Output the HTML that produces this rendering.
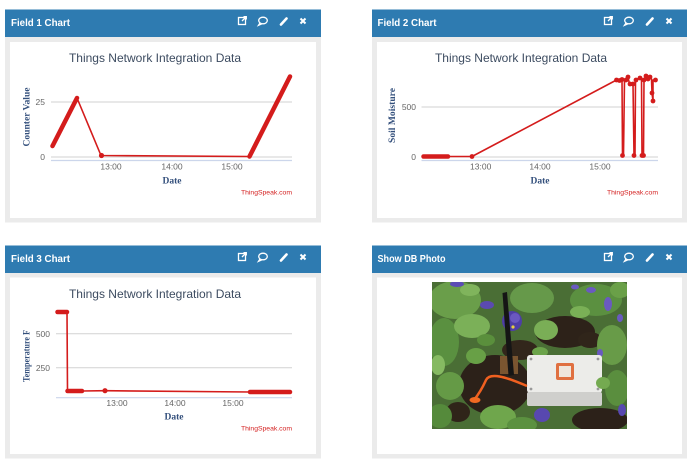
<!DOCTYPE html>
<html><head><meta charset="utf-8"><style>
html,body{margin:0;padding:0;background:#fff;width:700px;height:473px;overflow:hidden}
svg{display:block}
.hd{font:bold 10.5px "Liberation Sans",sans-serif;fill:#fff}
.t{font:12px "Liberation Sans",sans-serif;fill:#3c4b60}
.tk{font:8.5px "Liberation Sans",sans-serif;fill:#666}
.at{font:bold 9.5px "Liberation Serif",serif;fill:#34507c}
.ts{font:6.8px "Liberation Sans",sans-serif;fill:#d42020}
.ic{stroke:#fff;fill:none;stroke-width:1.3}
</style></head><body>
<svg width="700" height="473" viewBox="0 0 700 473" xmlns="http://www.w3.org/2000/svg">
<defs>
<g id="icons">
  <rect x="-82.5" y="-3.5" width="7" height="7" class="ic"/>
  <path d="M-79 0 L-75 -4 M-77.5 -4.3 L-74.7 -4.3 L-74.7 -1.5" class="ic"/>
  <ellipse cx="-58" cy="-0.5" rx="4.3" ry="3.3" class="ic"/>
  <path d="M-61 2 L-62.5 4.3 L-59 2.8" class="ic"/>
  <path d="M-40 3.5 L-34.5 -2.5" stroke="#fff" stroke-width="2.6" stroke-linecap="round"/>
  <path d="M-20.5 -2.5 L-15.5 2.5 M-15.5 -2.5 L-20.5 2.5" stroke="#fff" stroke-width="2"/>
</g>
<clipPath id="ph"><rect x="432" y="282" width="195" height="147"/></clipPath>
</defs>

<rect x="5" y="37" width="316" height="185.5" fill="#ebebeb"/>
<rect x="10" y="42" width="306" height="176" fill="#fff"/>
<rect x="5" y="9.5" width="316" height="27.5" fill="#2e7bb1"/>
<text x="11" y="25.8" class="hd" textLength="59" lengthAdjust="spacingAndGlyphs">Field 1 Chart</text>
<use href="#icons" transform="translate(321,21)"/>

<rect x="372" y="37" width="315" height="185.5" fill="#ebebeb"/>
<rect x="377" y="42" width="305" height="176" fill="#fff"/>
<rect x="372" y="9.5" width="315" height="27.5" fill="#2e7bb1"/>
<text x="377.5" y="25.8" class="hd" textLength="59" lengthAdjust="spacingAndGlyphs">Field 2 Chart</text>
<use href="#icons" transform="translate(687,21)"/>

<rect x="5" y="273" width="316" height="185.5" fill="#ebebeb"/>
<rect x="10" y="277.5" width="306" height="176.5" fill="#fff"/>
<rect x="5" y="245.5" width="316" height="27.5" fill="#2e7bb1"/>
<text x="11" y="261.8" class="hd" textLength="59" lengthAdjust="spacingAndGlyphs">Field 3 Chart</text>
<use href="#icons" transform="translate(321,257)"/>

<rect x="372" y="273" width="315" height="185.5" fill="#ebebeb"/>
<rect x="377" y="277.5" width="305" height="176.5" fill="#fff"/>
<rect x="372" y="245.5" width="315" height="27.5" fill="#2e7bb1"/>
<text x="377.5" y="261.8" class="hd" textLength="68" lengthAdjust="spacingAndGlyphs">Show DB Photo</text>
<use href="#icons" transform="translate(687,257)"/>

<!-- Chart 1 -->
<text x="155" y="62" class="t" text-anchor="middle">Things Network Integration Data</text>
<line x1="51" y1="102" x2="292" y2="102" stroke="#d2d2d2" stroke-width="1"/>
<line x1="51" y1="157" x2="292" y2="157" stroke="#d2d2d2" stroke-width="1"/>
<line x1="51" y1="160.5" x2="292" y2="160.5" stroke="#ccd6eb" stroke-width="1.2"/>
<text x="45" y="105" class="tk" text-anchor="end">25</text>
<text x="45" y="160" class="tk" text-anchor="end">0</text>
<text x="111" y="169.5" class="tk" text-anchor="middle">13:00</text>
<text x="172" y="169.5" class="tk" text-anchor="middle">14:00</text>
<text x="232" y="169.5" class="tk" text-anchor="middle">15:00</text>
<text x="172" y="183.5" class="at" text-anchor="middle">Date</text>
<text transform="translate(29.5,117) rotate(-90)" class="at" text-anchor="middle" textLength="59" lengthAdjust="spacingAndGlyphs">Counter Value</text>
<text x="292" y="194.5" class="ts" text-anchor="end">ThingSpeak.com</text>
<g stroke="#d41c1c" fill="none" stroke-linecap="round" stroke-linejoin="round">
  <path d="M52.5 146 L77 98" stroke-width="4.5"/>
  <path d="M77 98 L101 155.5 L249 156.5" stroke-width="1.6"/>
  <path d="M249.5 156.5 L290 76.5" stroke-width="4.5"/>
</g>
<circle cx="101.5" cy="155.5" r="2.6" fill="#d41c1c"/>

<!-- Chart 2 -->
<text x="521" y="62" class="t" text-anchor="middle">Things Network Integration Data</text>
<line x1="421.5" y1="107" x2="658" y2="107" stroke="#d2d2d2" stroke-width="1"/>
<line x1="421.5" y1="157" x2="658" y2="157" stroke="#d2d2d2" stroke-width="1"/>
<line x1="421.5" y1="160.5" x2="658" y2="160.5" stroke="#ccd6eb" stroke-width="1.2"/>
<text x="416" y="110" class="tk" text-anchor="end">500</text>
<text x="416" y="160" class="tk" text-anchor="end">0</text>
<text x="480.7" y="169.5" class="tk" text-anchor="middle">13:00</text>
<text x="540" y="169.5" class="tk" text-anchor="middle">14:00</text>
<text x="600" y="169.5" class="tk" text-anchor="middle">15:00</text>
<text x="540" y="183.5" class="at" text-anchor="middle">Date</text>
<text transform="translate(395,115.5) rotate(-90)" class="at" text-anchor="middle" textLength="55" lengthAdjust="spacingAndGlyphs">Soil Moisture</text>
<text x="658" y="194.5" class="ts" text-anchor="end">ThingSpeak.com</text>
<g stroke="#d41c1c" fill="none" stroke-linecap="round" stroke-linejoin="round">
  <path d="M423.5 156.5 L448 156.5" stroke-width="4.5"/>
  <path d="M448 156.5 L472 156.5 L616.5 80 L620 80 L622 79.5 L622.5 155.5 L623.5 155.5 L624.5 80 L626 80 L628 77 L629.5 84 L633 84 L634 155.5 L635 155.5 L635.5 80 L640 78 L641.5 78 L642 155.5 L643.5 155.5 L644 80 L646 76 L648 79 L650 77 L651.5 79 L652 93 L653 101 L653 80 L655.5 80" stroke-width="1.6"/>
</g>
<g fill="#d41c1c">
  <circle cx="472" cy="156.5" r="2.4"/>
  <circle cx="616.5" cy="80" r="2.4"/><circle cx="619.5" cy="80.5" r="2.4"/><circle cx="622" cy="79.5" r="2.4"/>
  <circle cx="622.5" cy="155.5" r="2.4"/><circle cx="626" cy="80" r="2.4"/><circle cx="628" cy="77" r="2.4"/>
  <circle cx="630" cy="84" r="2.4"/><circle cx="633" cy="84" r="2.4"/><circle cx="634" cy="155.5" r="2.4"/>
  <circle cx="636" cy="80" r="2.4"/><circle cx="640" cy="78" r="2.4"/><circle cx="642" cy="155.5" r="2.4"/>
  <circle cx="643.5" cy="155.5" r="2.4"/><circle cx="644" cy="80" r="2.4"/><circle cx="646" cy="76" r="2.4"/>
  <circle cx="648" cy="79" r="2.4"/><circle cx="650" cy="77" r="2.4"/><circle cx="652" cy="93" r="2.4"/>
  <circle cx="653" cy="101" r="2.4"/><circle cx="655.5" cy="80" r="2.4"/>
</g>

<!-- Chart 3 -->
<text x="155" y="298" class="t" text-anchor="middle">Things Network Integration Data</text>
<line x1="56" y1="333.7" x2="292" y2="333.7" stroke="#d2d2d2" stroke-width="1"/>
<line x1="56" y1="367.7" x2="292" y2="367.7" stroke="#d2d2d2" stroke-width="1"/>
<line x1="56" y1="397.7" x2="292" y2="397.7" stroke="#ccd6eb" stroke-width="1.2"/>
<text x="50" y="337" class="tk" text-anchor="end">500</text>
<text x="50" y="371" class="tk" text-anchor="end">250</text>
<text x="117" y="406" class="tk" text-anchor="middle">13:00</text>
<text x="175" y="406" class="tk" text-anchor="middle">14:00</text>
<text x="233" y="406" class="tk" text-anchor="middle">15:00</text>
<text x="174" y="419.5" class="at" text-anchor="middle">Date</text>
<text transform="translate(29.5,356) rotate(-90)" class="at" text-anchor="middle" textLength="52" lengthAdjust="spacingAndGlyphs">Temperature F</text>
<text x="292" y="430.5" class="ts" text-anchor="end">ThingSpeak.com</text>
<g stroke="#d41c1c" fill="none" stroke-linecap="round" stroke-linejoin="round">
  <path d="M57.5 312 L67 312" stroke-width="4.5"/>
  <path d="M67 312 L67.5 391" stroke-width="1.6"/>
  <path d="M67.5 391 L82 391" stroke-width="4.5"/>
  <path d="M82 391 L105 390.7 L250 392" stroke-width="1.6"/>
  <path d="M250 392 L290 392" stroke-width="4.5"/>
</g>
<circle cx="105" cy="390.7" r="2.6" fill="#d41c1c"/>

<!-- Photo -->
<g clip-path="url(#ph)">
  <rect x="432" y="282" width="195" height="147" fill="#4a6e35"/>
  <ellipse cx="495" cy="385" rx="36" ry="30" fill="#2c2119"/>
  <ellipse cx="565" cy="332" rx="30" ry="16" fill="#2d2219"/>
  <ellipse cx="600" cy="420" rx="28" ry="12" fill="#2c2119"/>
  <ellipse cx="458" cy="412" rx="12" ry="10" fill="#2f2419"/>
  <ellipse cx="520" cy="350" rx="18" ry="10" fill="#32261b"/>
  <ellipse cx="590" cy="340" rx="12" ry="8" fill="#30251a"/>
  <ellipse cx="455" cy="300" rx="26" ry="19" fill="#6a9e4a"/>
  <ellipse cx="444" cy="342" rx="15" ry="24" fill="#5a9040"/>
  <ellipse cx="472" cy="326" rx="18" ry="12" fill="#7bb058"/>
  <ellipse cx="450" cy="386" rx="14" ry="14" fill="#659a46"/>
  <ellipse cx="440" cy="416" rx="12" ry="12" fill="#558a3b"/>
  <ellipse cx="532" cy="298" rx="22" ry="15" fill="#66994a"/>
  <ellipse cx="546" cy="330" rx="12" ry="10" fill="#7aae56"/>
  <ellipse cx="596" cy="300" rx="26" ry="16" fill="#5b9040"/>
  <ellipse cx="612" cy="345" rx="15" ry="20" fill="#689b48"/>
  <ellipse cx="617" cy="388" rx="12" ry="18" fill="#5a8e3e"/>
  <ellipse cx="498" cy="417" rx="18" ry="12" fill="#6fa64c"/>
  <ellipse cx="522" cy="425" rx="15" ry="8" fill="#5b9140"/>
  <ellipse cx="476" cy="356" rx="10" ry="8" fill="#68a046"/>
  <ellipse cx="486" cy="340" rx="9" ry="6" fill="#5a8f3c"/>
  <ellipse cx="540" cy="352" rx="8" ry="5" fill="#6ba34a"/>
  <ellipse cx="580" cy="312" rx="10" ry="6" fill="#7ab056"/>
  <ellipse cx="438" cy="365" rx="7" ry="10" fill="#86ba62"/>
  <ellipse cx="470" cy="290" rx="10" ry="6" fill="#80b45c"/>
  <ellipse cx="620" cy="290" rx="10" ry="8" fill="#6aa048"/>
  <ellipse cx="512" cy="321" rx="10" ry="10" fill="#4e3ea6"/>
  <ellipse cx="515" cy="318" rx="5" ry="5" fill="#6a58c0"/>
  <circle cx="513" cy="327" r="1.6" fill="#e8d040"/>
  <ellipse cx="487" cy="305" rx="7" ry="4" fill="#5b4ab0"/>
  <ellipse cx="542" cy="415" rx="8" ry="7" fill="#5848b0"/>
  <ellipse cx="457" cy="284" rx="7" ry="3" fill="#5c4cb5"/>
  <ellipse cx="608" cy="304" rx="4" ry="7" fill="#6a5ac0"/>
  <ellipse cx="591" cy="290" rx="5" ry="3" fill="#6a5ac0"/>
  <ellipse cx="622" cy="410" rx="4" ry="6" fill="#5848b0"/>
  <ellipse cx="600" cy="353" rx="3" ry="4" fill="#6a5ac0"/>
  <ellipse cx="575" cy="287" rx="4" ry="2.5" fill="#6a5ac0"/>
  <ellipse cx="620" cy="318" rx="3" ry="4" fill="#6a5ac0"/>
  <rect x="500" y="356" width="18" height="18" fill="#7a5530"/>
  <polygon points="502.5,293 507,292 514,375 508.5,376" fill="#151515"/>
  <rect x="527" y="355" width="75" height="38" rx="3" fill="#ecece9"/>
  <rect x="527" y="392" width="75" height="14" rx="2" fill="#cfcfcc"/>
  <circle cx="531" cy="359" r="1.4" fill="#999"/><circle cx="598" cy="359" r="1.4" fill="#999"/>
  <circle cx="531" cy="389" r="1.4" fill="#999"/><circle cx="598" cy="389" r="1.4" fill="#999"/>
  <rect x="556" y="363" width="18" height="17" rx="2" fill="#e07040"/>
  <rect x="559" y="366" width="12" height="11" fill="#efe6dc"/>
  <ellipse cx="603" cy="383" rx="7" ry="6" fill="#74aa50"/>
  <path d="M474 400 C478 395 482 389 486 380 C490 372 506 377 527 386" stroke="#f06020" stroke-width="2.5" fill="none"/>
  <ellipse cx="475" cy="400" rx="5.5" ry="3" fill="#f26a22"/>
</g>
</svg>
</body></html>
